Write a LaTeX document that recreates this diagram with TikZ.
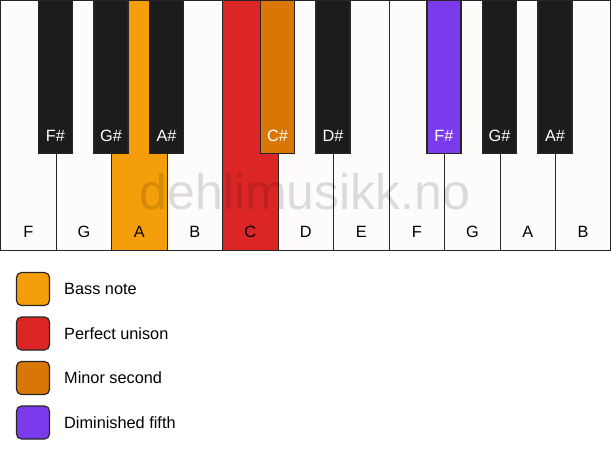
\documentclass[tikz,border=0pt]{standalone}
\usepackage{fontspec}
\setmainfont{Liberation Sans}
\usepackage{tikz}
\definecolor{keyline}{HTML}{292524}
\definecolor{ivory}{HTML}{FDFCFA}
\definecolor{ebony}{HTML}{1C1C1C}
\definecolor{bassnote}{HTML}{F59E0B}
\definecolor{unison}{HTML}{DC2626}
\definecolor{minsecond}{HTML}{D97706}
\definecolor{dimfifth}{HTML}{7C3AED}
\newcommand{\keyfont}{\fontsize{16.3}{19}\selectfont}

\begin{document}
\begin{tikzpicture}[x=1pt, y=1pt,
	whitekey/.style={draw=keyline, line width=1.2pt, fill=ivory, anchor=north west, minimum width=55.5pt, minimum height=250pt, inner sep=0pt},
	blackkey/.style={draw=keyline, line width=1.2pt, fill=ebony, anchor=north, minimum width=34pt, minimum height=153pt, inner sep=0pt},
	keylabel/.style={font=\keyfont, inner sep=0pt, text height=11.7pt, text depth=0pt},
	legendbox/.style={draw=keyline, line width=1.2pt, rounded corners=5pt, minimum size=33pt, inner sep=0pt},
	legendtext/.style={font=\keyfont, anchor=west, inner sep=0pt, text height=11.7pt, text depth=0pt}]
			\useasboundingbox (0,0) rectangle (611,-461);
			
			\node[whitekey] (keyFa) at (0,0) {};
			\node[whitekey] (keyGa) at (55.5,0) {};
			\node[whitekey, fill=bassnote] (keyAa) at (111,0) {};
			\node[whitekey] (keyBa) at (166.5,0) {};
			\node[whitekey, fill=unison] (keyC) at (222,0) {};
			\node[whitekey] (keyD) at (277.5,0) {};
			\node[whitekey] (keyE) at (333,0) {};
			\node[whitekey] (keyFb) at (388.5,0) {};
			\node[whitekey] (keyGb) at (444,0) {};
			\node[whitekey] (keyAb) at (499.5,0) {};
			\node[whitekey, minimum width=55pt] (keyBb) at (555,0) {};
			
			\node[keylabel] (labFa) at ([yshift=20pt]keyFa.south) {F};
			\node[keylabel] (labGa) at ([yshift=20pt]keyGa.south) {G};
			\node[keylabel] (labAa) at ([yshift=20pt]keyAa.south) {A};
			\node[keylabel] (labBa) at ([yshift=20pt]keyBa.south) {B};
			\node[keylabel] (labC) at ([yshift=20pt]keyC.south) {C};
			\node[keylabel] (labD) at ([yshift=20pt]keyD.south) {D};
			\node[keylabel] (labE) at ([yshift=20pt]keyE.south) {E};
			\node[keylabel] (labFb) at ([yshift=20pt]keyFb.south) {F};
			\node[keylabel] (labGb) at ([yshift=20pt]keyGb.south) {G};
			\node[keylabel] (labAb) at ([yshift=20pt]keyAb.south) {A};
			\node[keylabel] (labBb) at ([yshift=20pt]keyBb.south) {B};
			
			\node[blackkey] (keyFsa) at (55.5,0) {};
			\node[blackkey] (keyGsa) at (111,0) {};
			\node[blackkey] (keyAsa) at (166.5,0) {};
			\node[blackkey, fill=minsecond] (keyCs) at (277.5,0) {};
			\node[blackkey] (keyDs) at (333,0) {};
			\node[blackkey, fill=dimfifth] (keyFsb) at (444,0) {};
			\node[blackkey] (keyGsb) at (499.5,0) {};
			\node[blackkey] (keyAsb) at (555,0) {};
			
			\node[keylabel, text=white] (labFsa) at ([yshift=19pt]keyFsa.south) {F\#};
			\node[keylabel, text=white] (labGsa) at ([yshift=19pt]keyGsa.south) {G\#};
			\node[keylabel, text=white] (labAsa) at ([yshift=19pt]keyAsa.south) {A\#};
			\node[keylabel, text=white] (labCs) at ([yshift=19pt]keyCs.south) {C\#};
			\node[keylabel, text=white] (labDs) at ([yshift=19pt]keyDs.south) {D\#};
			\node[keylabel, text=white] (labFsb) at ([yshift=19pt]keyFsb.south) {F\#};
			\node[keylabel, text=white] (labGsb) at ([yshift=19pt]keyGsb.south) {G\#};
			\node[keylabel, text=white] (labAsb) at ([yshift=19pt]keyAsb.south) {A\#};
			
			% watermark over the keys
			\node[font=\fontsize{50}{58}\selectfont, text=black, text opacity=0.13, inner sep=0pt] (stamp) at (305,-192) {dehlimusikk.no};
			
			\node[legendbox, fill=bassnote] (boxBass) at (33,-289) {};
			\node[legendtext] (txtBass) at (64,-289) {Bass note};
			\node[legendbox, fill=unison] (boxUnison) at (33,-333.5) {};
			\node[legendtext] (txtUnison) at (64,-333.5) {Perfect unison};
			\node[legendbox, fill=minsecond] (boxSecond) at (33,-378) {};
			\node[legendtext] (txtSecond) at (64,-378) {Minor second};
			\node[legendbox, fill=dimfifth] (boxFifth) at (33,-422.5) {};
			\node[legendtext] (txtFifth) at (64,-422.5) {Diminished fifth};
		\end{tikzpicture}
\end{document}
